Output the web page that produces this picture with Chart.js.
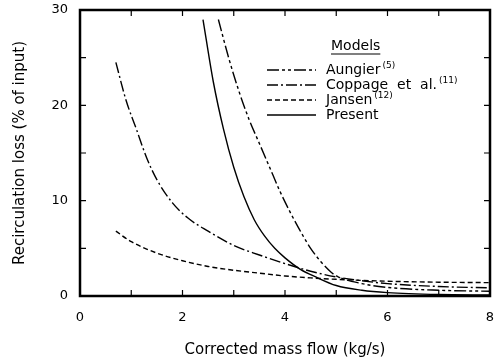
<!DOCTYPE html>
<html>
<head>
<meta charset="utf-8">
<script src="https://cdn.jsdelivr.net/npm/chart.js@4/dist/chart.umd.min.js"></script>
<style>
  html, body { margin: 0; padding: 0; background: #fff; }
  #wrap { width: 495px; height: 363px; }
</style>
</head>
<body>
<div id="wrap"><canvas id="chart"></canvas></div>
<script>
// data (x = corrected mass flow kg/s, y = loss %)
const aungierX = [2.7, 2.9, 3.1, 3.3, 3.5, 3.7, 3.9, 4.1, 4.3, 4.5, 4.7, 4.9, 5.0, 5.5, 6.0, 7.0, 8.0];
const aungierY = [29, 25, 21.5, 18.5, 16, 13.5, 11, 8.8, 6.8, 5.0, 3.6, 2.5, 2.1, 1.3, 0.9, 0.6, 0.5];
const coppageX = [0.7, 0.9, 1.1, 1.3, 1.5, 1.8, 2.1, 2.5, 3.0, 3.5, 4.0, 4.5, 5.0, 5.5, 6.0, 7.0, 8.0];
const coppageY = [24.5, 20.5, 17.5, 14.5, 12.2, 9.8, 8.2, 6.8, 5.3, 4.3, 3.4, 2.6, 2.0, 1.6, 1.3, 1.0, 0.85];
const jansenX = [0.7, 1.0, 1.5, 2.0, 2.5, 3.0, 3.5, 4.0, 4.5, 5.0, 6.0, 7.0, 8.0];
const jansenY = [6.8, 5.7, 4.5, 3.7, 3.1, 2.7, 2.4, 2.1, 1.9, 1.75, 1.55, 1.45, 1.4];
const presentX = [2.4, 2.6, 2.8, 3.0, 3.2, 3.4, 3.6, 3.8, 4.0, 4.3, 4.6, 5.0, 5.5, 6.0, 7.0, 8.0];
const presentY = [29, 22.5, 17.5, 13.5, 10.4, 8.0, 6.3, 5.0, 4.0, 2.8, 2.0, 1.1, 0.6, 0.35, 0.15, 0.1];

const modelNames = ['Aungier', 'Coppage  et  al.', 'Jansen', 'Present'];
const modelRefs = ['(5)', '(11)', '(12)', ''];
const dashes = [[12, 3, 3, 3, 3, 3], [11, 3, 2, 3], [5, 3], []];

const xTicks = [0, 2, 4, 6, 8];
const yTicks = [0, 10, 20, 30];

function pts(xs, ys) { return xs.map((x, i) => ({ x: x, y: ys[i] })); }

const series = [pts(aungierX, aungierY), pts(coppageX, coppageY), pts(jansenX, jansenY), pts(presentX, presentY)];

const FONT = '"DejaVu Sans", sans-serif';

// frame with inward ticks on all four sides
const framePlugin = {
  id: 'frame',
  afterDatasetsDraw(chart) {
    const { ctx, chartArea: a, scales } = chart;
    ctx.save();
    ctx.strokeStyle = '#000';
    ctx.lineWidth = 1.2;
    ctx.beginPath();
    for (let v = 1; v < 8; v++) {
      const px = scales.x.getPixelForValue(v);
      ctx.moveTo(px, a.bottom); ctx.lineTo(px, a.bottom - 6);
      ctx.moveTo(px, a.top); ctx.lineTo(px, a.top + 6);
    }
    for (let v = 5; v < 30; v += 5) {
      const py = scales.y.getPixelForValue(v);
      ctx.moveTo(a.left, py); ctx.lineTo(a.left + 6, py);
      ctx.moveTo(a.right, py); ctx.lineTo(a.right - 6, py);
    }
    ctx.stroke();
    ctx.lineWidth = 2.5;
    ctx.strokeRect(a.left, a.top, a.right - a.left, a.bottom - a.top);
    ctx.restore();
  }
};

// hand-drawn legend matching the figure's "Models" box
const legendPlugin = {
  id: 'modelsLegend',
  afterDraw(chart) {
    const ctx = chart.ctx;
    ctx.save();
    ctx.fillStyle = '#000';
    ctx.strokeStyle = '#000';
    ctx.font = '14px ' + FONT;
    ctx.textBaseline = 'alphabetic';
    ctx.fillText('Models', 331, 50);
    const w = ctx.measureText('Models').width;
    ctx.lineWidth = 1.2;
    ctx.beginPath(); ctx.moveTo(331, 54); ctx.lineTo(331 + w, 54); ctx.stroke();
    const rows = [74, 89, 104, 119];
    modelNames.forEach((name, i) => {
      const y = rows[i];
      ctx.setLineDash(dashes[i]);
      ctx.lineWidth = 1.3;
      ctx.beginPath(); ctx.moveTo(267, y - 4); ctx.lineTo(316, y - 4); ctx.stroke();
      ctx.setLineDash([]);
      ctx.font = '14px ' + FONT;
      ctx.fillText(name, 326, y);
      const tw = ctx.measureText(name).width;
      if (modelRefs[i]) {
        ctx.font = '9px ' + FONT;
        ctx.fillText(modelRefs[i], 326 + tw + 2, y - 6);
      }
    });
    ctx.restore();
  }
};

new Chart(document.getElementById('chart'), {
  type: 'scatter',
  data: {
    datasets: series.map((d, i) => ({
      label: modelNames[i],
      data: d,
      showLine: true,
      borderColor: '#000',
      borderWidth: 1.4,
      borderDash: dashes[i],
      pointRadius: 0,
      tension: 0.4,
      cubicInterpolationMode: 'monotone',
      fill: false
    }))
  },
  options: {
    responsive: true,
    maintainAspectRatio: false,
    animation: false,
    layout: { padding: { top: 10, right: 5, left: 0, bottom: 0 } },
    plugins: { legend: { display: false }, tooltip: { enabled: false } },
    scales: {
      x: {
        type: 'linear', min: 0, max: 8,
        grid: { display: false, drawTicks: false, tickLength: 0 },
        border: { display: false },
        afterBuildTicks: s => { s.ticks = xTicks.map(v => ({ value: v })); },
        afterFit: s => { s.height = 67; s.paddingLeft = 0; s.paddingRight = 0; },
        ticks: { color: '#000', font: { family: FONT, size: 13 }, padding: 14, maxRotation: 0 },
        title: { display: true, text: 'Corrected mass flow (kg/s)', color: '#000', font: { family: FONT, size: 15 }, padding: { top: 14 } }
      },
      y: {
        type: 'linear', min: 0, max: 30,
        grid: { display: false, drawTicks: false, tickLength: 0 },
        border: { display: false },
        afterBuildTicks: s => { s.ticks = yTicks.map(v => ({ value: v })); },
        afterFit: s => { s.width = 80; s.paddingTop = 0; s.paddingBottom = 0; },
        ticks: { color: '#000', font: { family: FONT, size: 13 }, padding: 12 },
        title: { display: true, text: 'Recirculation loss (% of input)', color: '#000', font: { family: FONT, size: 15 }, padding: { top: 11, bottom: 0 } }
      }
    }
  },
  plugins: [framePlugin, legendPlugin]
});
</script>
</body>
</html>
